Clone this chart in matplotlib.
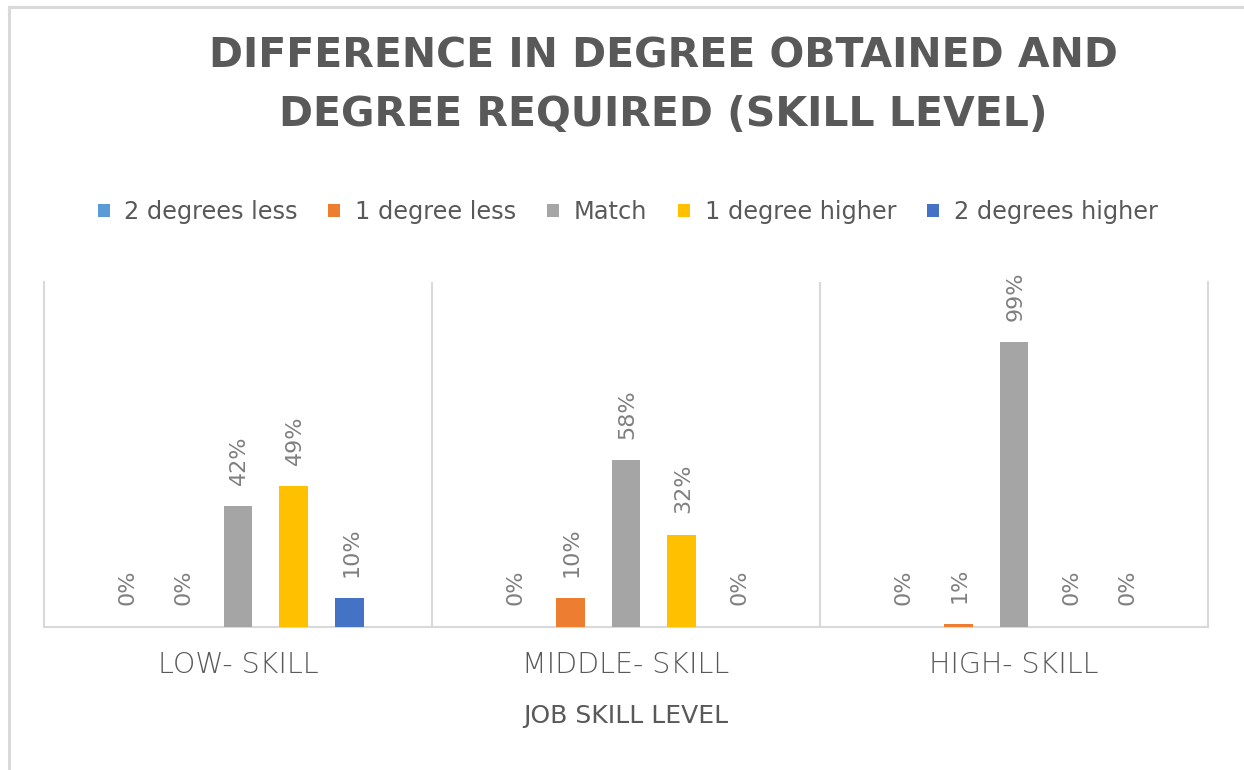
import matplotlib
matplotlib.use("Agg")
import matplotlib.pyplot as plt
from matplotlib.lines import Line2D
import numpy as np

# ---- data ----
categories = ["LOW- SKILL", "MIDDLE- SKILL", "HIGH- SKILL"]
series_names = ["2 degrees less", "1 degree less", "Match", "1 degree higher", "2 degrees higher"]
two_less = [0, 0, 0]
one_less = [0, 10, 1]
match = [42, 58, 99]
one_higher = [49, 32, 0]
two_higher = [10, 0, 0]
series_values = [two_less, one_less, match, one_higher, two_higher]
colors = ["#5B9BD5", "#ED7D31", "#A5A5A5", "#FFC000", "#4472C4"]

title = "DIFFERENCE IN DEGREE OBTAINED AND\nDEGREE REQUIRED (SKILL LEVEL)"
xlabel = "JOB SKILL LEVEL"

W, H = 1244, 770
fig = plt.figure(figsize=(W / 100, H / 100), dpi=100)
fig.patch.set_facecolor("white")

# plot area
left, right, top, bottom = 44, 1208, 282, 627
ax = fig.add_axes([left / W, 1 - bottom / H, (right - left) / W, (bottom - top) / H])

x = np.arange(len(categories))
spacing = 0.1443
width = 0.0747
bars_list = []
for i, (name, vals, col) in enumerate(zip(series_names, series_values, colors)):
    pos = x + (i - 2) * spacing
    bars = ax.bar(pos, vals, width=width, color=col, label=name, zorder=3)
    bars_list.append(bars)
    for xi, v in zip(pos, vals):
        ax.annotate(f"{v}%", xy=(xi, v), xytext=(1, 15.5), textcoords="offset points",
                    rotation=90, ha="center", va="bottom", fontsize=16,
                    color="#7f7f7f", zorder=4)

ax.set_xlim(-0.5, len(categories) - 0.5)
ax.set_ylim(0, 120)
ax.set_yticks([])
ax.set_xticks(x)
ax.set_xticklabels(categories, fontsize=20.5, color="#595959", fontweight="light")
ax.tick_params(axis="x", length=0, pad=17)
for b in x[:-1] + 0.5:
    ax.axvline(b, color="#d9d9d9", lw=1.5, zorder=1)
for s in ["left", "right", "bottom"]:
    ax.spines[s].set_color("#d9d9d9")
    ax.spines[s].set_linewidth(1.5)
ax.spines["top"].set_visible(False)
ax.set_xlabel(xlabel, fontsize=18, color="#595959", labelpad=18)

# title
fig.text(663 / W, 1 - 36 / H, title, ha="center", va="top", fontsize=29.5,
         fontweight="bold", color="#595959", linespacing=1.62)

# legend
leg = fig.legend(handles=[b[0] for b in bars_list], labels=series_names, loc="center",
                 bbox_to_anchor=(627.5 / W, 1 - 212 / H), ncol=5, frameon=False,
                 fontsize=17.3, handlelength=0.5, handleheight=0.5, handletextpad=0.62,
                 columnspacing=1.27, labelcolor="#595959")

# outer chart frame (top and left edges)
fig.add_artist(Line2D([8.5 / W, 1], [1 - 6.5 / H, 1 - 6.5 / H], color="#d9d9d9", lw=2.2,
                      transform=fig.transFigure))
fig.add_artist(Line2D([8.5 / W, 8.5 / W], [0, 1 - 6.5 / H], color="#d9d9d9", lw=2.2,
                      transform=fig.transFigure))

fig.savefig("out.png", dpi=100, facecolor="white")
